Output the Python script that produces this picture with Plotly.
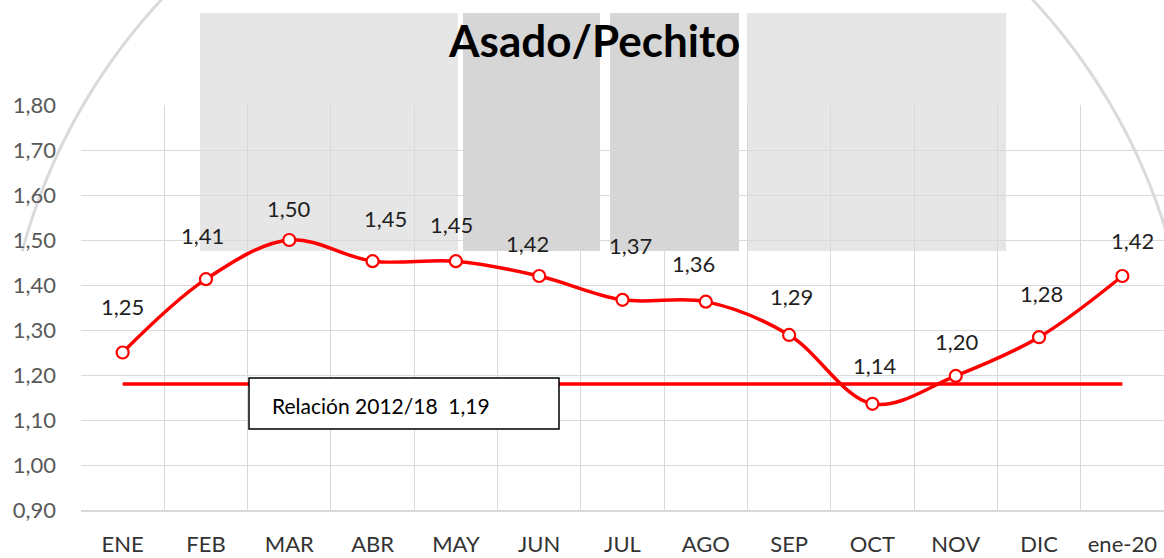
import numpy as np
import plotly.graph_objects as go

# ---------------- data ----------------
months = ["ENE", "FEB", "MAR", "ABR", "MAY", "JUN", "JUL", "AGO", "SEP", "OCT", "NOV", "DIC", "ene-20"]
ratio = [1.25, 1.413, 1.50, 1.453, 1.453, 1.42, 1.367, 1.363, 1.289, 1.136, 1.198, 1.284, 1.42]
ratio_labels = ["1,25", "1,41", "1,50", "1,45", "1,45", "1,42", "1,37", "1,36", "1,29", "1,14", "1,20", "1,28", "1,42"]
ref_value = 1.18
ref_text = "Relación 2012/18  1,19"
title_text = "Asado/Pechito"
y_ticks = [0.90, 1.00, 1.10, 1.20, 1.30, 1.40, 1.50, 1.60, 1.70, 1.80]

# label offsets (pixels, styling only)
label_dx = [0, -3, 0, 13, -4, -12, 8, -12, 2, 3, 1, 2, 10]
label_dy = [46, 44, 32, 43, 37, 33, 54, 38, 38, 38, 34, 44, 36]

# ---------------- geometry helpers (figure pixels -> paper) ----------------
W, H = 1164, 558
L, T, PW, PH = 81, 105, 1083, 405


def px_x(p):
    return (p - L) / PW


def px_y(p):
    return (T + PH - p) / PH


RED = "#ff0000"
GRID = "#d9d9d9"
FONT = "Lato"

fig = go.Figure()

# main series
fig.add_trace(go.Scatter(
    x=months, y=ratio, mode="lines+markers",
    line=dict(color=RED, width=3.5, shape="spline", smoothing=1.0),
    marker=dict(symbol="circle", size=12, color="white", line=dict(color=RED, width=2.2)),
    showlegend=False,
))

# reference line
fig.add_trace(go.Scatter(
    x=[months[0], months[-1]], y=[ref_value, ref_value],
    mode="lines", line=dict(color=RED, width=3.5),
    hoverinfo="skip", showlegend=False,
))

annotations = []
for m, v, t, dx, dy in zip(months, ratio, ratio_labels, label_dx, label_dy):
    annotations.append(dict(
        x=m, y=v, xref="x", yref="y", text=t, showarrow=False,
        xshift=dx, yshift=dy, font=dict(family=FONT, size=22, color="#1f1f1f"),
        xanchor="center", yanchor="middle",
    ))

# title
annotations.append(dict(
    x=px_x(594), y=px_y(40), xref="paper", yref="paper",
    text="<b>" + title_text + "</b>", showarrow=False,
    font=dict(family=FONT, size=44, color="#000000"),
    xanchor="center", yanchor="middle",
))

# reference text box label
annotations.append(dict(
    x=px_x(270), y=px_y(405), xref="paper", yref="paper",
    text=ref_text, showarrow=False,
    font=dict(family=FONT, size=21, color="#000000"),
    xanchor="left", yanchor="middle",
))

shapes = []
# watermark rectangles
rects = [(200, 458, "#e6e6e6"), (463, 600, "#d6d6d6"), (610, 739, "#d6d6d6"), (747, 1006, "#e6e6e6")]
for x0, x1, c in rects:
    shapes.append(dict(
        type="rect", xref="paper", yref="paper",
        x0=px_x(x0), x1=px_x(x1), y0=px_y(251), y1=px_y(13),
        fillcolor=c, line=dict(width=0), layer="below",
    ))

# watermark arc
cx, cy, r = 597, 405, 595
th0 = np.arcsin((cy - 251) / r)
th = np.linspace(th0, np.pi - th0, 120)
ax = cx + r * np.cos(th)
ay = cy - r * np.sin(th)
path = "M " + " L ".join(f"{px_x(a):.5f},{px_y(b):.5f}" for a, b in zip(ax, ay))
shapes.append(dict(
    type="path", xref="paper", yref="paper", path=path,
    line=dict(color="#dadada", width=3), layer="below",
))

# reference text box
shapes.append(dict(
    type="rect", xref="paper", yref="paper",
    x0=px_x(249), x1=px_x(559), y0=px_y(429), y1=px_y(378),
    fillcolor="white", line=dict(color="#000000", width=1.5), layer="above",
))

fig.update_layout(
    width=W, height=H,
    margin=dict(l=L, r=W - L - PW, t=T, b=H - T - PH),
    paper_bgcolor="white", plot_bgcolor="rgba(0,0,0,0)",
    separators=",.",
    annotations=annotations, shapes=shapes,
    showlegend=False,
    xaxis=dict(
        type="category", categoryorder="array", categoryarray=months,
        range=[-0.5, 12.5], tickson="boundaries",
        showgrid=True, gridcolor=GRID, gridwidth=1,
        showline=True, linecolor=GRID, linewidth=2,
        ticks="", ticklabelstandoff=14,
        tickfont=dict(family=FONT, size=22, color="#333333"),
        zeroline=False, fixedrange=True,
    ),
    yaxis=dict(
        range=[0.9, 1.8], tickvals=y_ticks, tickformat=".2f",
        showgrid=True, gridcolor=GRID, gridwidth=1,
        showline=False, zeroline=False, ticks="",
        ticklabelstandoff=24,
        tickfont=dict(family=FONT, size=22, color="#595959"),
        fixedrange=True,
    ),
)

fig.write_html(
    "out.html",
    config={"displayModeBar": False},
    post_script="document.body.style.margin='0';document.body.style.padding='0';document.body.style.overflow='hidden';",
)
